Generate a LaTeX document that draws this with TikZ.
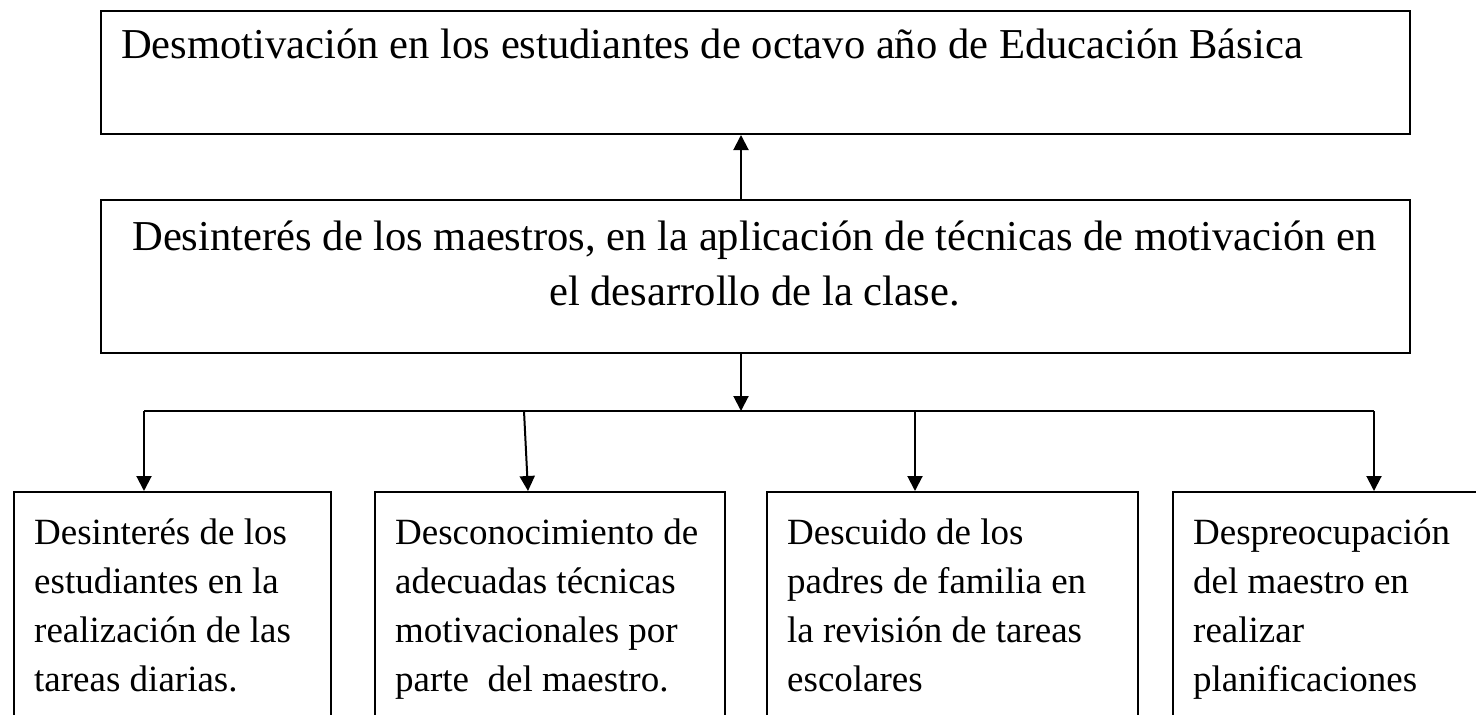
\documentclass[tikz,border=0pt]{standalone}
\usepackage{fontspec}
\setmainfont{Liberation Serif}
\usetikzlibrary{arrows.meta,calc}
\begin{document}
\begin{tikzpicture}[x=1pt,y=-1pt,
  box/.style={draw,line width=2pt,rectangle,inner sep=0pt,anchor=north west},
  arr/.style={line width=2pt,-{Triangle[length=15pt,width=15pt]}},
  conn/.style={line width=2pt},
  big/.style={inner sep=0pt,font=\fontsize{42.6}{55}\selectfont},
  small/.style={inner sep=0pt,anchor=base west,font=\fontsize{37}{49.3}\selectfont}]
\useasboundingbox (0,0) rectangle (1476,715);
\fill[white] (0,0) rectangle (1476,715);
\clip (0,0) rectangle (1476,715);

\node[box,minimum width=1309pt,minimum height=123.5pt] (top) at (100,9.5) {};
\node[box,minimum width=1309pt,minimum height=153pt] (mid) at (100,199) {};
\node[box,minimum width=317pt,minimum height=260pt] (b1) at (13,491) {};
\node[box,minimum width=350pt,minimum height=260pt] (b2) at (374,491) {};
\node[box,minimum width=371pt,minimum height=260pt] (b3) at (766,491) {};
\node[box,minimum width=360pt,minimum height=260pt] (b4) at (1172,491) {};

\node[big,anchor=base west] (ttop) at (121,58) {Desmotivación en los estudiantes de octavo año de Educación Básica};
\node[big,anchor=base] (tmid) at (754.5,250) {\parbox[t]{1320pt}{\centering Desinterés de los maestros, en la aplicación de técnicas de motivación en\\ el desarrollo de la clase.}};

\node[small] (t1) at (34,544) {\parbox[t]{300pt}{\raggedright Desinterés de los\\ estudiantes en la\\ realización de las\\ tareas diarias.}};
\node[small] (t2) at (395,544) {\parbox[t]{330pt}{\raggedright Desconocimiento de\\ adecuadas técnicas\\ motivacionales por\\ parte\ \ del maestro.}};
\node[small] (t3) at (787,544) {\parbox[t]{350pt}{\raggedright Descuido de los\\ padres de familia en\\ la revisión de tareas\\ escolares}};
\node[small] (t4) at (1193,544) {\parbox[t]{300pt}{\raggedright Despreocupación\\ del maestro en\\ realizar\\ planificaciones}};

\coordinate (J) at (741,411);
\coordinate (hL) at (144,411);
\coordinate (h2) at (524,411);
\coordinate (h3) at (915,411);
\coordinate (hR) at (1374,411);

\draw[arr] (mid.north -| J) -- (top.south -| J);
\draw[arr] (mid.south -| J) -- (J);
\draw[conn] (hL) -- (hR);
\draw[arr] (hL) -- (hL |- b1.north);
\draw[arr] (h2) -- ($(h2 |- b2.north)+(4,0)$);
\draw[arr] (h3) -- (h3 |- b3.north);
\draw[arr] (hR) -- (hR |- b4.north);
\end{tikzpicture}
\end{document}
